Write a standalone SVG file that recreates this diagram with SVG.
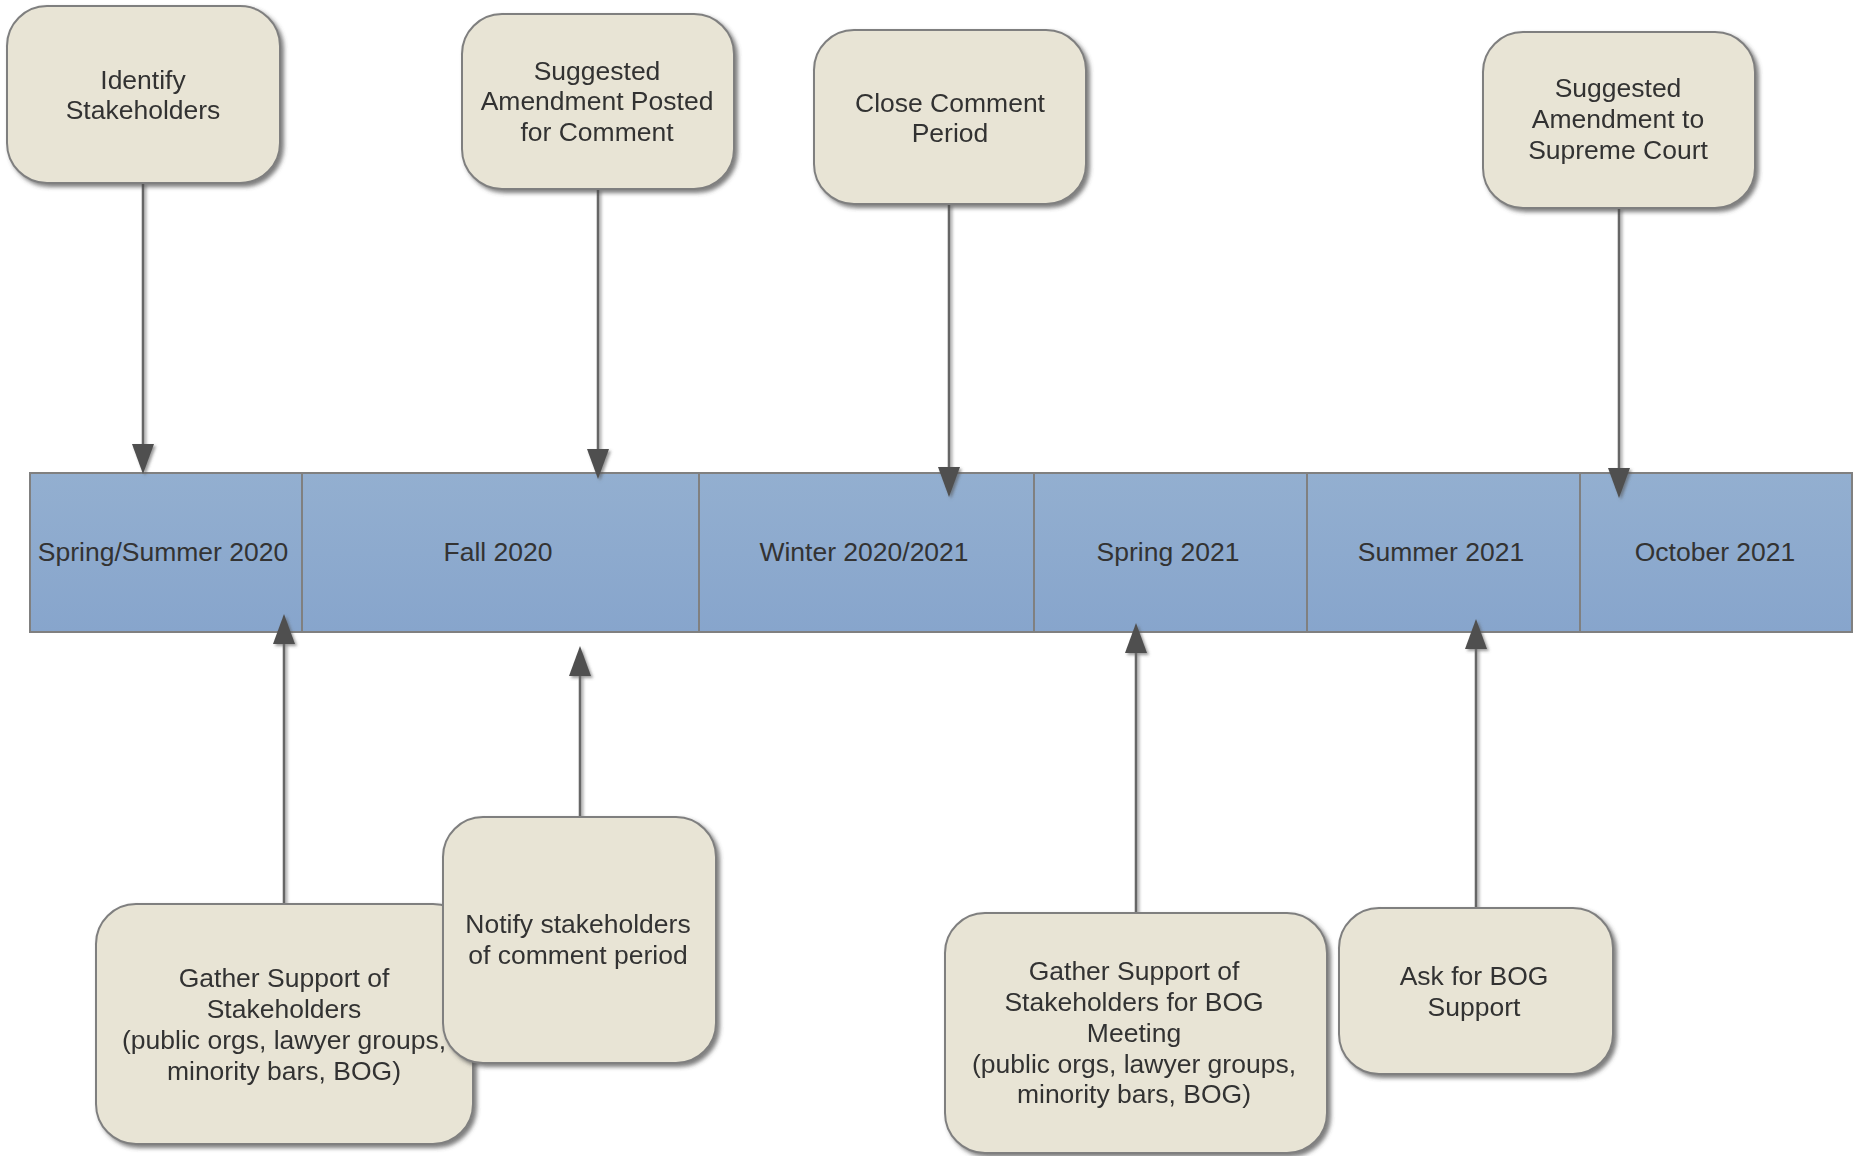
<svg xmlns="http://www.w3.org/2000/svg" width="1853" height="1156" viewBox="0 0 1853 1156">
<style>
.box{fill:#e8e4d5;stroke:#7f7f7f;stroke-width:2}
.seg{fill:url(#tl);stroke:#808080;stroke-width:2}
text{font-family:"Liberation Sans",Arial,sans-serif;font-size:26.5px;fill:#333333;text-anchor:middle}
.con{fill:none;stroke:#666666;stroke-width:2.5;marker-end:url(#ah)}
</style>
<defs>
<linearGradient id="tl" x1="0" y1="0" x2="0" y2="1">
<stop offset="0" stop-color="#93afd0"/>
<stop offset="1" stop-color="#87a5cc"/>
</linearGradient>
<filter id="sh" x="-10%" y="-10%" width="125%" height="125%">
<feDropShadow dx="3" dy="3" stdDeviation="2" flood-color="#444444" flood-opacity="0.7"/>
</filter>
<filter id="ls" filterUnits="userSpaceOnUse" x="0" y="0" width="1853" height="1156">
<feDropShadow dx="2" dy="2" stdDeviation="1.5" flood-color="#555555" flood-opacity="0.6"/>
</filter>
<marker id="ah" viewBox="0 0 30 22" refX="0" refY="11" markerWidth="30" markerHeight="22" markerUnits="userSpaceOnUse" orient="auto">
<path d="M0,0 L30,11 L0,22 z" fill="#4f4f4f"/>
</marker>
</defs>
<rect width="1853" height="1156" fill="#ffffff"/>

<g id="timeline">
<g id="seg-spring-summer-2020"><rect class="seg" x="30" y="473" width="272" height="159"/><text x="163" y="561">Spring/Summer 2020</text></g>
<g id="seg-fall-2020"><rect class="seg" x="302" y="473" width="397" height="159"/><text x="498" y="561">Fall 2020</text></g>
<g id="seg-winter-2020-2021"><rect class="seg" x="699" y="473" width="335" height="159"/><text x="864" y="561">Winter 2020/2021</text></g>
<g id="seg-spring-2021"><rect class="seg" x="1034" y="473" width="273" height="159"/><text x="1168" y="561">Spring 2021</text></g>
<g id="seg-summer-2021"><rect class="seg" x="1307" y="473" width="273" height="159"/><text x="1441" y="561">Summer 2021</text></g>
<g id="seg-october-2021"><rect class="seg" x="1580" y="473" width="272" height="159"/><text x="1715" y="561">October 2021</text></g>
</g>

<g id="connectors" filter="url(#ls)">
<path class="con" d="M143,183 V444"/>
<path class="con" d="M598,189 V449"/>
<path class="con" d="M949,204 V467"/>
<path class="con" d="M1619,208 V468"/>
<path class="con" d="M284,904 V644"/>
<path class="con" d="M580,817 V676"/>
<path class="con" d="M1136,913 V653"/>
<path class="con" d="M1476,908 V649"/>
</g>

<g id="identify-stakeholders" filter="url(#sh)">
<rect class="box" x="7" y="6" width="273" height="177" rx="40"/>
<text x="143" y="89">Identify</text>
<text x="143" y="119">Stakeholders</text>
</g>
<g id="suggested-amendment-posted" filter="url(#sh)">
<rect class="box" x="462" y="14" width="272" height="175" rx="40"/>
<text x="597" y="80">Suggested</text>
<text x="597" y="110">Amendment Posted</text>
<text x="597" y="141">for Comment</text>
</g>
<g id="close-comment-period" filter="url(#sh)">
<rect class="box" x="814" y="30" width="272" height="174" rx="40"/>
<text x="950" y="112">Close Comment</text>
<text x="950" y="142">Period</text>
</g>
<g id="suggested-amendment-supreme" filter="url(#sh)">
<rect class="box" x="1483" y="32" width="272" height="176" rx="40"/>
<text x="1618" y="97">Suggested</text>
<text x="1618" y="128">Amendment to</text>
<text x="1618" y="159">Supreme Court</text>
</g>
<g id="gather-support-stakeholders" filter="url(#sh)">
<rect class="box" x="96" y="904" width="377" height="240" rx="40"/>
<text x="284" y="987">Gather Support of</text>
<text x="284" y="1018">Stakeholders</text>
<text x="284" y="1049">(public orgs, lawyer groups,</text>
<text x="284" y="1080">minority bars, BOG)</text>
</g>
<g id="notify-stakeholders" filter="url(#sh)">
<rect class="box" x="443" y="817" width="273" height="246" rx="40"/>
<text x="578" y="933">Notify stakeholders</text>
<text x="578" y="964">of comment period</text>
</g>
<g id="gather-support-bog" filter="url(#sh)">
<rect class="box" x="945" y="913" width="382" height="240" rx="40"/>
<text x="1134" y="980">Gather Support of</text>
<text x="1134" y="1011">Stakeholders for BOG</text>
<text x="1134" y="1042">Meeting</text>
<text x="1134" y="1073">(public orgs, lawyer groups,</text>
<text x="1134" y="1103">minority bars, BOG)</text>
</g>
<g id="ask-bog-support" filter="url(#sh)">
<rect class="box" x="1339" y="908" width="274" height="166" rx="40"/>
<text x="1474" y="985">Ask for BOG</text>
<text x="1474" y="1016">Support</text>
</g>
</svg>
